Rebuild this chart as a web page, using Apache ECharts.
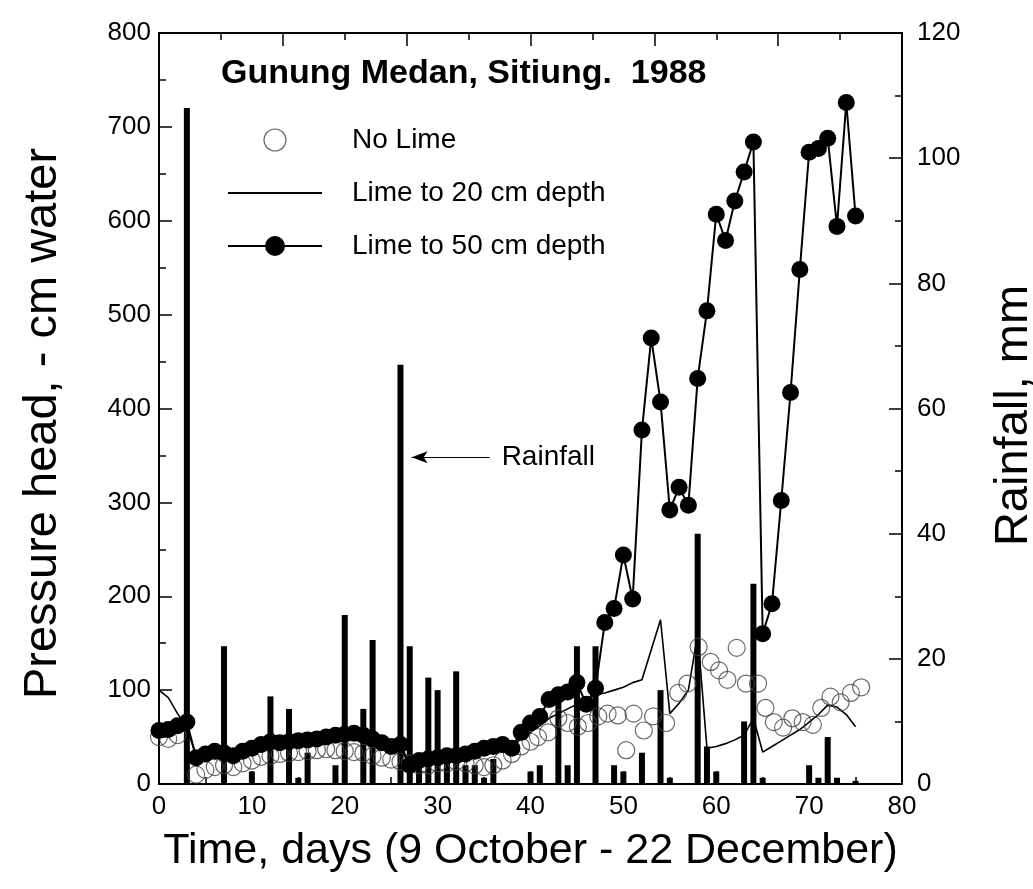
<!DOCTYPE html>
<html>
<head>
<meta charset="utf-8">
<title>Gunung Medan, Sitiung. 1988</title>
<script src="https://cdn.jsdelivr.net/npm/echarts@6/dist/echarts.min.js"></script>
<style>
  html, body { margin: 0; padding: 0; background: #fff; overflow: hidden; }
  #chart { width: 1033px; height: 889px; }
</style>
</head>
<body>
<div id="chart"></div>
<script>
// Daily record, days since 9 October 1988
const days = [0,1,2,3,4,5,6,7,8,9,10,11,12,13,14,15,16,17,18,19,20,21,22,23,24,25,26,27,28,29,30,31,32,33,34,35,36,37,38,39,40,41,42,43,44,45,46,47,48,49,50,51,52,53,54,55,56,57,58,59,60,61,62,63,64,65,66,67,68,69,70,71,72,73,74,75];

// Pressure head (- cm water), lime incorporated to 50 cm depth
const lime50 = [57,58,62,66,28,32,35,33,30,35,38,42,45,44,45,46,47,48,50,52,53,54,52,48,44,40,42,20,25,27,28,30,30,32,35,38,40,42,38,55,65,72,90,95,98,108,85,102,172,187,244,197,377,475,407,292,316,297,432,504,607,579,621,652,684,160,192,302,417,548,673,677,688,594,726,605];

// Pressure head (- cm water), lime incorporated to 20 cm depth
const lime20 = [100,92,75,60,30,30,28,30,32,35,38,40,42,42,44,45,46,47,48,50,50,50,48,45,40,38,36,22,24,25,26,28,28,30,32,35,36,38,40,48,55,62,70,75,80,85,90,95,97,100,103,108,111,143,175,75,86,100,160,38,40,43,47,52,70,34,40,46,52,58,66,74,84,82,74,61];

// Pressure head (- cm water), no lime
const noLimeDays = [0,1,2,4,5,6,7,8,9,10,11,12,13,14,15,16,17,18,19,20,21,22,23,24,25,26,27,28,29,30,31,32,33,34,35,36,37,38,39,40,40.8,41.9,43,44,45.1,46.2,47.3,48.3,49.4,50.3,51.1,52.2,53.2,54.6,55.9,56.9,58.1,59.4,60.3,61.2,62.2,63.2,64.5,65.3,66.2,67.2,68.2,69.3,70.4,71.3,72.3,73.4,74.5,75.6];
const noLime = [50,48,52,10,15,18,20,18,22,25,29,30,32,33,34,35,36,37,36,35,34,33,30,28,26,24,22,20,20,22,22,24,22,20,18,20,25,32,40,45,50,55,70,65,61,65,72,75,73,36,75,57,72,65,97,107,146,130,121,111,145,107,107,81,66,60,70,66,63,81,93,87,97,103];

// Daily rainfall (mm)
const rainDays = [3,7,10,12,14,15,16,19,20,22,23,26,27,28,29,30,31,32,33,34,35,36,40,41,43,44,45,47,49,50,52,54,55,58,59,60,63,64,65,70,71,72,73,75];
const rainMm = [108,22,2,14,12,1,5,3,27,12,23,67,22,4,17,15,4,18,3,3,1,4,2,3,14,3,22,22,3,2,5,15,1,40,6,2,10,32,1,3,1,7.5,1,0.5];

const seriesNames = ['No Lime', 'Lime to 20 cm depth', 'Lime to 50 cm depth'];
const titleText = 'Gunung Medan, Sitiung.  1988';
const xName = 'Time, days (9 October - 22 December)';
const yLeftName = 'Pressure head, - cm water';
const yRightName = 'Rainfall, mm';

const pairs = (xs, ys) => xs.map((x, i) => [x, ys[i]]);

const FONT = 'Liberation Sans, Arial, Helvetica, sans-serif';
const INK = '#000';

const tickStyle = { color: INK, width: 1.5 };
const axisLineStyle = { color: INK, width: 2 };

const chart = echarts.init(document.getElementById('chart'), null, { renderer: 'canvas', width: 1033, height: 889 });

chart.setOption({
  animation: false,
  backgroundColor: '#fff',
  textStyle: { fontFamily: FONT, color: INK },
  title: {
    text: titleText,
    left: 221,
    top: 57,
    padding: 0,
    textStyle: { fontFamily: FONT, fontSize: 34, fontWeight: 'bold', color: INK }
  },
  legend: {
    orient: 'vertical',
    left: 228,
    top: 124,
    itemWidth: 94,
    itemHeight: 22,
    itemGap: 21,
    padding: 0,
    selectedMode: false,
    textStyle: { fontFamily: FONT, fontSize: 28, color: INK, lineHeight: 32, padding: [0, 0, 0, 25] },
    data: [
      { name: seriesNames[0], icon: 'circle',
        itemStyle: { color: 'rgba(0,0,0,0)', borderColor: '#444', borderWidth: 1.2 } },
      { name: seriesNames[1], icon: 'path://M0,10 L94,10 L94,12 L0,12 Z',
        itemStyle: { color: INK } },
      { name: seriesNames[2], icon: 'path://M0,10 L94,10 L94,12 L0,12 Z M37,11 A10,10 0 1,1 57,11 A10,10 0 1,1 37,11 Z',
        itemStyle: { color: INK } }
    ]
  },
  grid: { left: 159, right: 131, top: 33, bottom: 105, outerBoundsMode: 'none', containLabel: false },
  xAxis: [
    {
      type: 'value',
      min: 0, max: 80, interval: 10,
      name: xName,
      nameLocation: 'middle',
      nameGap: 46,
      nameTextStyle: { fontFamily: FONT, fontSize: 43, color: INK },
      axisLine: { show: true, lineStyle: axisLineStyle },
      axisTick: { show: true, inside: true, length: 13, lineStyle: tickStyle },
      minorTick: { show: true, splitNumber: 2, length: 7, lineStyle: tickStyle },
      axisLabel: { fontFamily: FONT, fontSize: 26, color: INK, margin: 10 },
      splitLine: { show: false }
    },
    {
      type: 'value',
      position: 'top',
      min: 0, max: 12, interval: 2,
      axisLine: { show: true, onZero: false, lineStyle: axisLineStyle },
      axisTick: { show: true, inside: true, length: 13, lineStyle: tickStyle },
      minorTick: { show: true, splitNumber: 2, length: 7, lineStyle: tickStyle },
      axisLabel: { show: false },
      splitLine: { show: false }
    }
  ],
  yAxis: [
    {
      type: 'value',
      position: 'left',
      min: 0, max: 800, interval: 100,
      name: yLeftName,
      nameLocation: 'middle',
      nameRotate: 90,
      nameGap: 92,
      nameTextStyle: { fontFamily: FONT, fontSize: 47, color: INK, padding: [0, 30, 0, 0] },
      axisLine: { show: true, onZero: false, lineStyle: axisLineStyle },
      axisTick: { show: true, inside: true, length: 13, lineStyle: tickStyle },
      minorTick: { show: true, splitNumber: 2, length: 7, lineStyle: tickStyle },
      axisLabel: { fontFamily: FONT, fontSize: 26, color: INK, margin: 8 },
      splitLine: { show: false }
    },
    {
      type: 'value',
      position: 'right',
      min: 0, max: 120, interval: 20,
      name: yRightName,
      nameLocation: 'middle',
      nameRotate: 90,
      nameGap: 89,
      nameTextStyle: { fontFamily: FONT, fontSize: 47, color: INK, padding: [0, 14, 0, 0] },
      axisLine: { show: true, onZero: false, lineStyle: axisLineStyle },
      axisTick: { show: true, inside: true, length: 13, lineStyle: tickStyle },
      minorTick: { show: true, splitNumber: 2, length: 7, lineStyle: tickStyle },
      axisLabel: { fontFamily: FONT, fontSize: 26, color: INK, margin: 15 },
      splitLine: { show: false }
    }
  ],
  series: [
    {
      name: 'Rainfall',
      type: 'bar',
      xAxisIndex: 0,
      yAxisIndex: 1,
      barWidth: 6,
      itemStyle: { color: INK },
      data: pairs(rainDays, rainMm),
      z: 2,
      markLine: {
        silent: true,
        symbol: ['none', 'arrow'],
        symbolSize: [9, 16],
        lineStyle: { color: INK, width: 1, type: 'solid' },
        label: { show: true, position: 'start', formatter: 'Rainfall', fontFamily: FONT, fontSize: 28, color: INK, distance: 12 },
        data: [[{ coord: [35.6, 52.2] }, { coord: [27.2, 52.2] }]]
      }
    },
    {
      name: seriesNames[1],
      type: 'line',
      xAxisIndex: 0,
      yAxisIndex: 0,
      symbol: 'none',
      lineStyle: { color: INK, width: 1.6 },
      itemStyle: { color: INK },
      data: pairs(days, lime20),
      z: 3
    },
    {
      name: seriesNames[0],
      type: 'scatter',
      xAxisIndex: 0,
      yAxisIndex: 0,
      symbol: 'circle',
      symbolSize: 17,
      itemStyle: { color: 'rgba(0,0,0,0)', borderColor: '#444', borderWidth: 1.2 },
      data: pairs(noLimeDays, noLime),
      z: 4
    },
    {
      name: seriesNames[2],
      type: 'line',
      xAxisIndex: 0,
      yAxisIndex: 0,
      symbol: 'circle',
      symbolSize: 17,
      showAllSymbol: true,
      lineStyle: { color: INK, width: 2 },
      itemStyle: { color: INK },
      data: pairs(days, lime50),
      z: 5
    }
  ]
});
</script>
</body>
</html>
